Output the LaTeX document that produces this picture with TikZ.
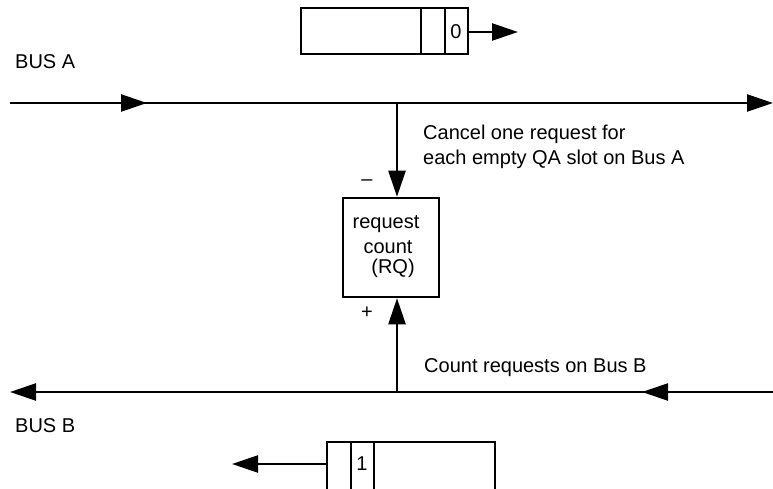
\documentclass[tikz,border=0pt]{standalone}
\usepackage{fontspec}
\setmainfont{Liberation Sans}
\usetikzlibrary{arrows.meta}
\begin{document}
\begin{tikzpicture}[x=1bp,y=-1bp,
  ln/.style={line width=2.4bp},
  arr/.style={ln,-{Triangle[length=26bp,width=17bp]}},
  lbl/.style={anchor=base west,inner sep=0pt,font=\fontsize{20bp}{24bp}\selectfont},
  ctr/.style={inner sep=0pt,font=\fontsize{20bp}{24bp}\selectfont},
  boxst/.style={draw,line width=2.5bp,inner sep=0pt}]
\useasboundingbox (0,0) rectangle (773,489);
% top slot
\coordinate (ta) at (301,8);
\coordinate (tb) at (468,54);
\draw[line width=2.5bp] (ta) rectangle (tb);
\draw[line width=2.5bp] (421,8) -- (421,54) (445,8) -- (445,54);
\node[ctr] (zero) at (456,32) {0};
\coordinate (tout) at (468,32);
\coordinate (tend) at (518,32);
\draw[arr] (tout) -- (tend);
% bus A
\node[lbl] (busAlbl) at (15,69) {BUS A};
\coordinate (aL) at (10,103);
\coordinate (aM) at (147,103);
\coordinate (aR) at (773,103);
\coordinate (aJ) at (397,103);
\draw[arr] (aL) -- (aM);
\draw[arr] (aL) -- (aR);
\node[lbl] (cancel1) at (423,140) {Cancel one request for};
\node[lbl] (cancel2) at (423,165) {each empty QA slot on Bus A};
% request count box
\node[boxst,minimum width=96bp,minimum height=99bp] (rq) at (391,247.5) {};
\node[ctr] (t1) at (386,224) {request};
\node[ctr] (t2) at (388,247) {count};
\node[ctr] (t3) at (393,268) {(RQ)};
\draw[arr] (aJ) -- (aJ |- rq.north);
\node[ctr] (minus) at (367,183) {–};
\node[ctr] (plus) at (367,313) {+};
% bus B
\coordinate (bL) at (10,392);
\coordinate (bM) at (642,392);
\coordinate (bR) at (773,392);
\coordinate (bJ) at (397,392);
\draw[arr] (bR) -- (bM);
\draw[arr] (bR) -- (bL);
\draw[arr] (bJ) -- (bJ |- rq.south);
\node[lbl] (count) at (424,372) {Count requests on Bus B};
\node[lbl] (busBlbl) at (15,432) {BUS B};
% bottom slot
\draw[line width=2.5bp] (327,500) -- (327,442) -- (495,442) -- (495,500);
\draw[line width=2.5bp] (351,442) -- (351,500) (374,442) -- (374,500);
\node[ctr] (one) at (362,464) {1};
\coordinate (bout) at (327,464);
\coordinate (bend) at (232,464);
\draw[arr] (bout) -- (bend);
\end{tikzpicture}
\end{document}
